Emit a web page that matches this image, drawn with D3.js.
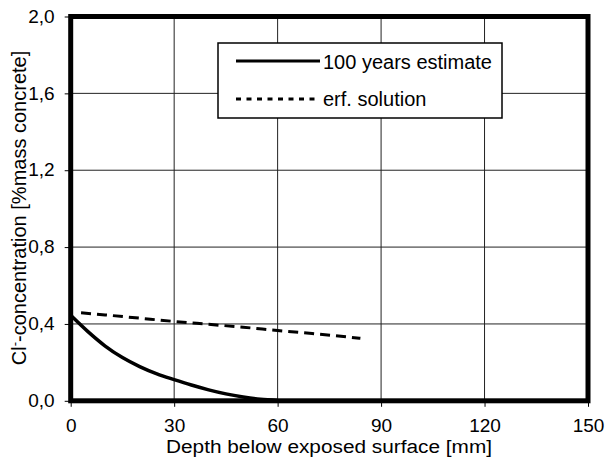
<!DOCTYPE html>
<html>
<head>
<meta charset="utf-8">
<script src="https://cdn.jsdelivr.net/npm/d3@7"></script>
<style>
  html, body { margin: 0; padding: 0; background: #fff; }
  svg { display: block; font-family: Arial, "Liberation Sans", sans-serif; }
</style>
</head>
<body>
<svg id="chart" width="606" height="465"></svg>
<script>
// Chloride profile: 100-year estimate vs. erf solution
const xTicks = [0, 30, 60, 90, 120, 150];
const yTicks = [0, 0.4, 0.8, 1.2, 1.6, 2.0];

const depth100 = [0, 5, 10, 15, 20, 25, 30, 35, 40, 45, 50, 55, 60];
const conc100  = [0.445, 0.36, 0.285, 0.225, 0.178, 0.14, 0.11, 0.082, 0.057, 0.036, 0.02, 0.008, 0.002];

const depthErf = [3, 10, 20, 30, 40, 50, 60, 70, 80, 84];
const concErf  = [0.458, 0.447, 0.43, 0.413, 0.398, 0.383, 0.366, 0.35, 0.333, 0.325];

const seriesNames = ["100 years estimate", "erf. solution"];

const svg = d3.select("#chart");
const plotL = 70.7, plotR = 588, plotT = 16.5, plotB = 400.8;

const x = d3.scaleLinear().domain([0, 150]).range([plotL, plotR]);
const y = d3.scaleLinear().domain([0, 2]).range([plotB, plotT]);

const fmt = d => d3.format(".1f")(d).replace(".", ",");

// grid
const grid = svg.append("g").attr("stroke", "#222").attr("stroke-width", 1);
grid.selectAll("line.gx").data(xTicks.slice(1, -1)).join("line")
  .attr("x1", d => x(d)).attr("x2", d => x(d))
  .attr("y1", plotT).attr("y2", plotB);
grid.selectAll("line.gy").data(yTicks.slice(1, -1)).join("line")
  .attr("x1", plotL).attr("x2", plotR)
  .attr("y1", d => y(d)).attr("y2", d => y(d));

// axes (ticks + labels)
const xAxis = svg.append("g").attr("transform", `translate(0,${plotB})`)
  .call(d3.axisBottom(x).tickValues(xTicks).tickSize(6).tickPadding(19).tickFormat(d3.format("d")));
const yAxis = svg.append("g").attr("transform", `translate(${plotL},0)`)
  .call(d3.axisLeft(y).tickValues(yTicks).tickSize(6).tickPadding(10).tickFormat(fmt));
[xAxis, yAxis].forEach(a => {
  a.select(".domain").remove();
  a.selectAll(".tick line").attr("stroke", "#000").attr("stroke-width", 1);
  a.selectAll(".tick text").attr("fill", "#000").attr("font-size", 19)
    .attr("font-family", "Arial, 'Liberation Sans', sans-serif");
});
yAxis.selectAll(".tick text").attr("dy", "0.3em");
xAxis.selectAll(".tick text").attr("dy", "0.35em");

// data lines
const line = d3.line().curve(d3.curveMonotoneX).x(d => x(d[0])).y(d => y(d[1]));
svg.append("path")
  .datum(d3.zip(depth100, conc100))
  .attr("d", line).attr("fill", "none").attr("stroke", "#000").attr("stroke-width", 3.5);
svg.append("path")
  .datum(d3.zip(depthErf, concErf))
  .attr("d", line).attr("fill", "none").attr("stroke", "#000").attr("stroke-width", 3)
  .attr("stroke-dasharray", "10,6");

// frame
svg.append("rect")
  .attr("x", plotL).attr("y", plotT).attr("width", plotR - plotL).attr("height", plotB - plotT)
  .attr("fill", "none").attr("stroke", "#000").attr("stroke-width", 5);

// legend
const lg = svg.append("g");
lg.append("rect").attr("x", 218).attr("y", 43).attr("width", 284).attr("height", 75)
  .attr("fill", "#fff").attr("stroke", "#000").attr("stroke-width", 1.5);
lg.append("line").attr("x1", 236).attr("x2", 320).attr("y1", 61).attr("y2", 61)
  .attr("stroke", "#000").attr("stroke-width", 3);
lg.append("line").attr("x1", 236).attr("x2", 320).attr("y1", 99).attr("y2", 99)
  .attr("stroke", "#000").attr("stroke-width", 3).attr("stroke-dasharray", "5,5.5");
lg.append("text").attr("x", 323).attr("y", 69).attr("font-size", 20).text(seriesNames[0]);
lg.append("text").attr("x", 323).attr("y", 106).attr("font-size", 20).text(seriesNames[1]);

// axis titles
svg.append("text").attr("x", 329).attr("y", 453).attr("text-anchor", "middle")
  .attr("font-size", 18).attr("textLength", 326).attr("lengthAdjust", "spacingAndGlyphs")
  .text("Depth below exposed surface [mm]");

const yt = svg.append("text")
  .attr("transform", "translate(26,208) rotate(-90)")
  .attr("text-anchor", "middle").attr("font-size", 20);
yt.append("tspan").text("Cl");
yt.append("tspan").attr("baseline-shift", "super").attr("font-size", 13).text("-");
yt.append("tspan").text("-concentration [%mass concrete]");
</script>
</body>
</html>
